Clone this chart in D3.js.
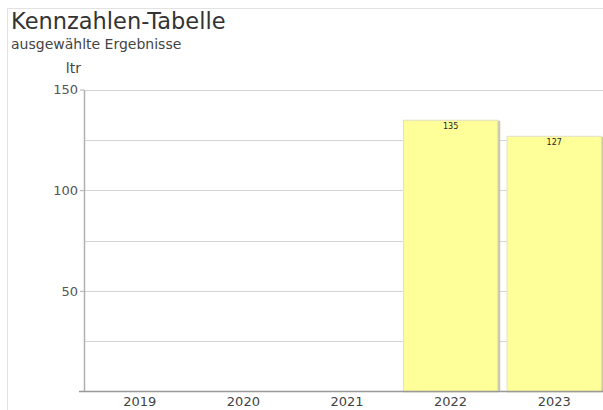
<!DOCTYPE html>
<html><head><meta charset="utf-8">
<script src="https://cdn.jsdelivr.net/npm/d3@7"></script>
<style>body{margin:0;background:#fff}svg{display:block}</style>
</head><body><svg id="c" width="603" height="410"></svg>
<script>
const categories = ["2019","2020","2021","2022","2023"];
const values = [null, null, null, 135, 127];
const yTicks = [50, 100, 150];
const yMinorTicks = [25, 75, 125];
const title = "Kennzahlen-Tabelle";
const subtitle = "ausgewählte Ergebnisse";
const unit = "ltr";

const svg = d3.select("#c");
const font = "DejaVu Sans, Verdana, sans-serif";
svg.append("rect").attr("x",7.5).attr("y",8.5).attr("width",620).attr("height",420)
  .attr("fill","none").attr("stroke","#e2e2e2");

const x = d3.scaleBand().domain(categories).range([88,606]).paddingInner(0.08).paddingOuter(0.04);
const y = d3.scaleLinear().domain([0,150]).range([391.5,89.5]);

svg.append("text").attr("x",11).attr("y",28.5).attr("font-family",font).attr("font-size",22.5).attr("fill","#333").text(title);
svg.append("text").attr("x",11).attr("y",49).attr("font-family",font).attr("font-size",14).attr("fill","#444").text(subtitle);
svg.append("text").attr("x",81).attr("y",73).attr("text-anchor","end").attr("font-family",font).attr("font-size",14).attr("fill","#444").text(unit);

// gridlines
svg.append("g").selectAll("line").data(yTicks.concat(yMinorTicks)).join("line")
  .attr("x1",84).attr("x2",603).attr("y1",d=>Math.round(y(d))+0.5).attr("y2",d=>Math.round(y(d))+0.5)
  .attr("stroke","#d4d4d4");

// bars
const bars = categories.map((c,i)=>({c, v:values[i]})).filter(d=>d.v!=null);
const g = svg.append("g");
g.selectAll("rect.sh").data(bars).join("rect").attr("class","sh")
  .attr("x",d=>x(d.c)+2).attr("y",d=>y(d.v)+1).attr("width",x.bandwidth()).attr("height",d=>y(0)-y(d.v)-1)
  .attr("fill","#c8c8a8");
g.selectAll("rect.b").data(bars).join("rect").attr("class","b")
  .attr("x",d=>x(d.c)+0.5).attr("y",d=>y(d.v)+0.5).attr("width",x.bandwidth()-1).attr("height",d=>y(0)-y(d.v))
  .attr("fill","#ffff99").attr("stroke","#e0e0c8");
g.selectAll("text").data(bars).join("text")
  .attr("x",d=>x(d.c)+x.bandwidth()/2).attr("y",d=>y(d.v)+9).attr("text-anchor","middle")
  .attr("font-family",font).attr("font-size",8).attr("fill","#222").text(d=>d.v);

// y axis
const ya = svg.append("g").attr("transform","translate(84,0)")
  .call(d3.axisLeft(y).tickValues(yTicks).tickSize(4).tickPadding(2).tickSizeOuter(0));
ya.select(".domain").attr("stroke","#b0b0b0").attr("stroke-width",1.5);
ya.selectAll(".tick line").attr("stroke","#b0b0b0");
ya.selectAll("text").attr("font-family",font).attr("font-size",13).attr("fill","#555");

// x axis
const xa = svg.append("g").attr("transform","translate(0,391.5)")
  .call(d3.axisBottom(x).tickSize(0).tickPadding(5));
xa.select(".domain").attr("d","M79,0H603").attr("stroke","#999").attr("stroke-width",1.5);
xa.selectAll("text").attr("font-family",font).attr("font-size",13).attr("fill","#444");
</script></body></html>
